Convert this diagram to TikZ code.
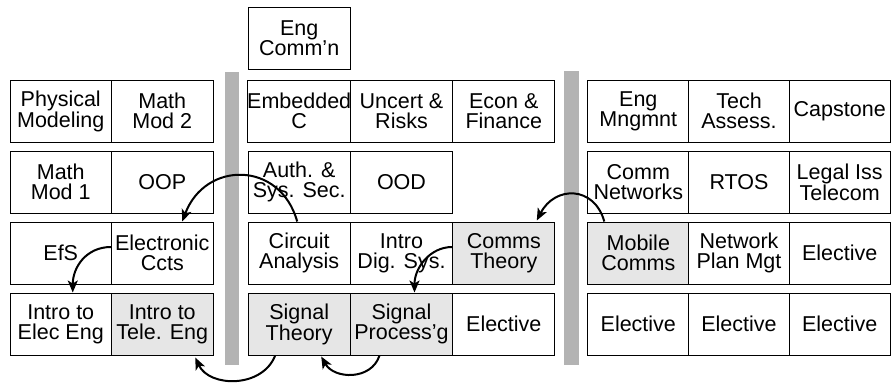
\documentclass[tikz,border=0pt]{standalone}
\usepackage{fontspec}
\setmainfont{Liberation Sans}
\usetikzlibrary{arrows.meta}
\definecolor{hilite}{HTML}{E6E6E6}
\definecolor{barclr}{HTML}{B3B3B3}
\tikzset{
  cell/.style={draw=black, line width=1pt, fill=white,
    minimum height=62pt, inner sep=0pt, align=center,
    font=\fontsize{21.5pt}{20pt}\selectfont},
  lcell/.style={cell, minimum width=101.5pt},
  mcell/.style={cell, minimum width=102.3pt},
  rcell/.style={cell, minimum width=100.7pt},
  core/.style={fill=hilite},
  yearbar/.style={fill=barclr},
  conn/.style={line width=2pt, -{Stealth[length=12pt,width=10pt,inset=3pt]}}
}
\begin{document}
\begin{tikzpicture}[x=1pt,y=-1pt]
\useasboundingbox (0,0) rectangle (891,383);

% year separators
\fill[yearbar] (225,72) rectangle (239,365);
\fill[yearbar] (564,71) rectangle (579,365);

% first year
\node[lcell] (pm)  at (60.75,111) {Physical\\Modeling};
\node[lcell] (mm2) at (162.25,111) {Math\\Mod 2};
\node[lcell] (mm1) at (60.75,182) {Math\\Mod 1};
\node[lcell] (oop) at (162.25,182) {OOP};
\node[lcell] (efs) at (60.75,253) {EfS};
\node[lcell] (ecc) at (162.25,253) {Electronic\\Ccts};
\node[lcell] (iee) at (60.75,324) {Intro to\\Elec Eng};
\node[lcell,core] (ite) at (162.25,324) {Intro to\\Tele. Eng};

% second year
\node[mcell] (ecomm) at (299.2,38.5) {Eng\\Comm'n};
\node[mcell] (emb)  at (299.2,111) {Embedded\\C};
\node[mcell] (unc)  at (401.5,111) {Uncert \&\\Risks};
\node[mcell] (econ) at (503.8,111) {Econ \&\\Finance};
\node[mcell] (auth) at (299.2,182) {Auth. \&\\Sys. Sec.};
\node[mcell] (ood)  at (401.5,182) {OOD};
\node[mcell] (circ) at (299.2,253) {Circuit\\Analysis};
\node[mcell] (ids)  at (401.5,253) {Intro\\Dig. Sys.};
\node[mcell,core] (comm) at (503.8,253) {Comms\\Theory};
\node[mcell,core] (st) at (299.2,324) {Signal\\Theory};
\node[mcell,core] (sp) at (401.5,324) {Signal\\Process'g};
\node[mcell] (el1) at (503.8,324) {Elective};

% third year
\node[rcell] (em)  at (638.3,111) {Eng\\Mngmnt};
\node[rcell] (ta)  at (739,111) {Tech\\Assess.};
\node[rcell] (cap) at (839.7,111) {Capstone};
\node[rcell] (cn)  at (638.3,182) {Comm\\Networks};
\node[rcell] (rtos) at (739,182) {RTOS};
\node[rcell] (legal) at (839.7,182) {Legal Iss\\Telecom};
\node[rcell,core] (mob) at (638.3,253) {Mobile\\Comms};
\node[rcell] (npm) at (739,253) {Network\\Plan Mgt};
\node[rcell] (el2) at (839.7,253) {Elective};
\node[rcell] (el3) at (638.3,324) {Elective};
\node[rcell] (el4) at (739,324) {Elective};
\node[rcell] (el5) at (839.7,324) {Elective};

% prerequisite chain
\draw[conn] ([xshift=-2pt]circ.north) .. controls +(-17,-61) and +(23,-61) .. ([xshift=20pt]ecc.north);
\draw[conn] ([yshift=6pt]ecc.west) .. controls +(-25,0) and +(0,-25) .. ([xshift=12pt]iee.north);
\draw[conn] ([xshift=-24pt]st.south) .. controls +(-13,33) and +(14,30) .. ([xshift=33pt,yshift=-2pt]ite.south);
\draw[conn] ([xshift=-22pt]sp.south) .. controls +(-8,25) and +(13,23) .. ([xshift=22pt,yshift=-1pt]st.south);
\draw[conn] ([yshift=6pt]comm.west) .. controls +(-22,0) and +(0,-25) .. ([xshift=13pt]sp.north);
\draw[conn] ([xshift=-34pt]mob.north) .. controls +(-10,-36) and +(18,-35) .. ([xshift=33pt,yshift=1pt]comm.north);
\end{tikzpicture}
\end{document}
